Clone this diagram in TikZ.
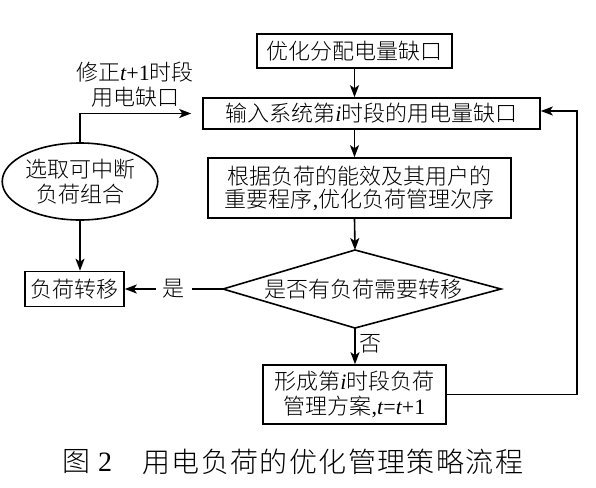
\documentclass[tikz,border=0pt]{standalone}
\usepackage{fontspec}
\setmainfont{Noto Sans CJK SC Light}
\newfontfamily\lat{Liberation Serif}
\usetikzlibrary{arrows.meta,shapes.geometric}
\newcommand{\myit}[1]{{\lat\itshape #1}}
\newcommand{\myrm}[1]{{\lat #1}}
\begin{document}
\begin{tikzpicture}[x=1pt,y=-1pt,
  lw/.style={line width=1.6pt},
  box/.style={draw, lw, inner sep=0pt, align=center, font=\fontsize{22}{24}\selectfont},
  txt/.style={inner sep=0pt, align=center, font=\fontsize{22}{25}\selectfont},
  captxt/.style={inner sep=0pt, font=\fontsize{28}{30}\selectfont},
  arr/.style={lw, -{Stealth[length=12pt,width=9pt,inset=3pt]}}]
\useasboundingbox (0,0) rectangle (596,487);
% boxes
\node[box, minimum width=195pt, minimum height=34pt] (b1) at (354.5,51) {优化分配电量缺口};
\node[box, minimum width=337pt, minimum height=31pt] (b2) at (371.5,113.5) {输入系统第\myit{i}时段的用电量缺口};
\node[box, minimum width=303pt, minimum height=60pt, font=\fontsize{22}{23}\selectfont] (b3) at (359.5,188) {根据负荷的能效及其用户的\\重要程序\myrm{,}优化负荷管理次序};
\node[txt] (d) at (363,289) {是否有负荷需要转移};
\coordinate (dl) at (223,289);
\coordinate (dr) at (501,289);
\coordinate (dt) at (355,250);
\coordinate (db) at (355,328);
\draw[lw, line join=miter] (dl) -- (dt) -- (dr) -- (db) -- cycle;
\node[box, minimum width=99pt, minimum height=35pt] (b4) at (74.5,289) {负荷转移};
\node[box, minimum width=183pt, minimum height=59pt, font=\fontsize{22}{25}\selectfont] (b5) at (354.5,394.5) {形成第\myit{i}时段负荷\\管理方案\myrm{,}\myit{t}\myrm{=}\myit{t}\myrm{+1}};
\node[draw, lw, ellipse, minimum width=140pt, minimum height=77pt, inner sep=0pt, align=center, font=\fontsize{22}{25}\selectfont] (ell) at (80,181.5) {选取可中断\\负荷组合};
\node[txt] (lab) at (135,84.5) {修正\myit{t}\myrm{+1}时段\\用电缺口};
% connectors
\draw[arr] (b1.south) -- (b1.south |- b2.north);
\draw[arr] (b1.south |- b2.south) -- (b1.south |- b3.north);
\draw[arr] (b1.south |- b3.south) -- (dt);
\draw[arr] (db) -- node[txt, right, pos=0.45, xshift=4pt] {否} (db |- b5.north);
\draw[arr] (dl) -- node[txt, fill=white, inner xsep=7pt, inner ysep=2pt] {是} (b4);
\draw[arr] (ell.south) -- (ell.south |- b4.north);
\draw[arr, shorten >=11pt] (ell.north) |- (b2.west);
\draw[arr] (b5.east) -- ++(130,0) |- ([yshift=2.5pt]b2.east);
% caption
\node[captxt, anchor=west] (cap1) at (62,462) {图};
\node[captxt, font=\fontsize{28}{30}\lat] (cap2) at (105,462) {2};
\node[captxt, anchor=west] (cap3) at (142,462) {\makebox[381pt][s]{用\hfill 电\hfill 负\hfill 荷\hfill 的\hfill 优\hfill 化\hfill 管\hfill 理\hfill 策\hfill 略\hfill 流\hfill 程}};
\end{tikzpicture}
\end{document}
